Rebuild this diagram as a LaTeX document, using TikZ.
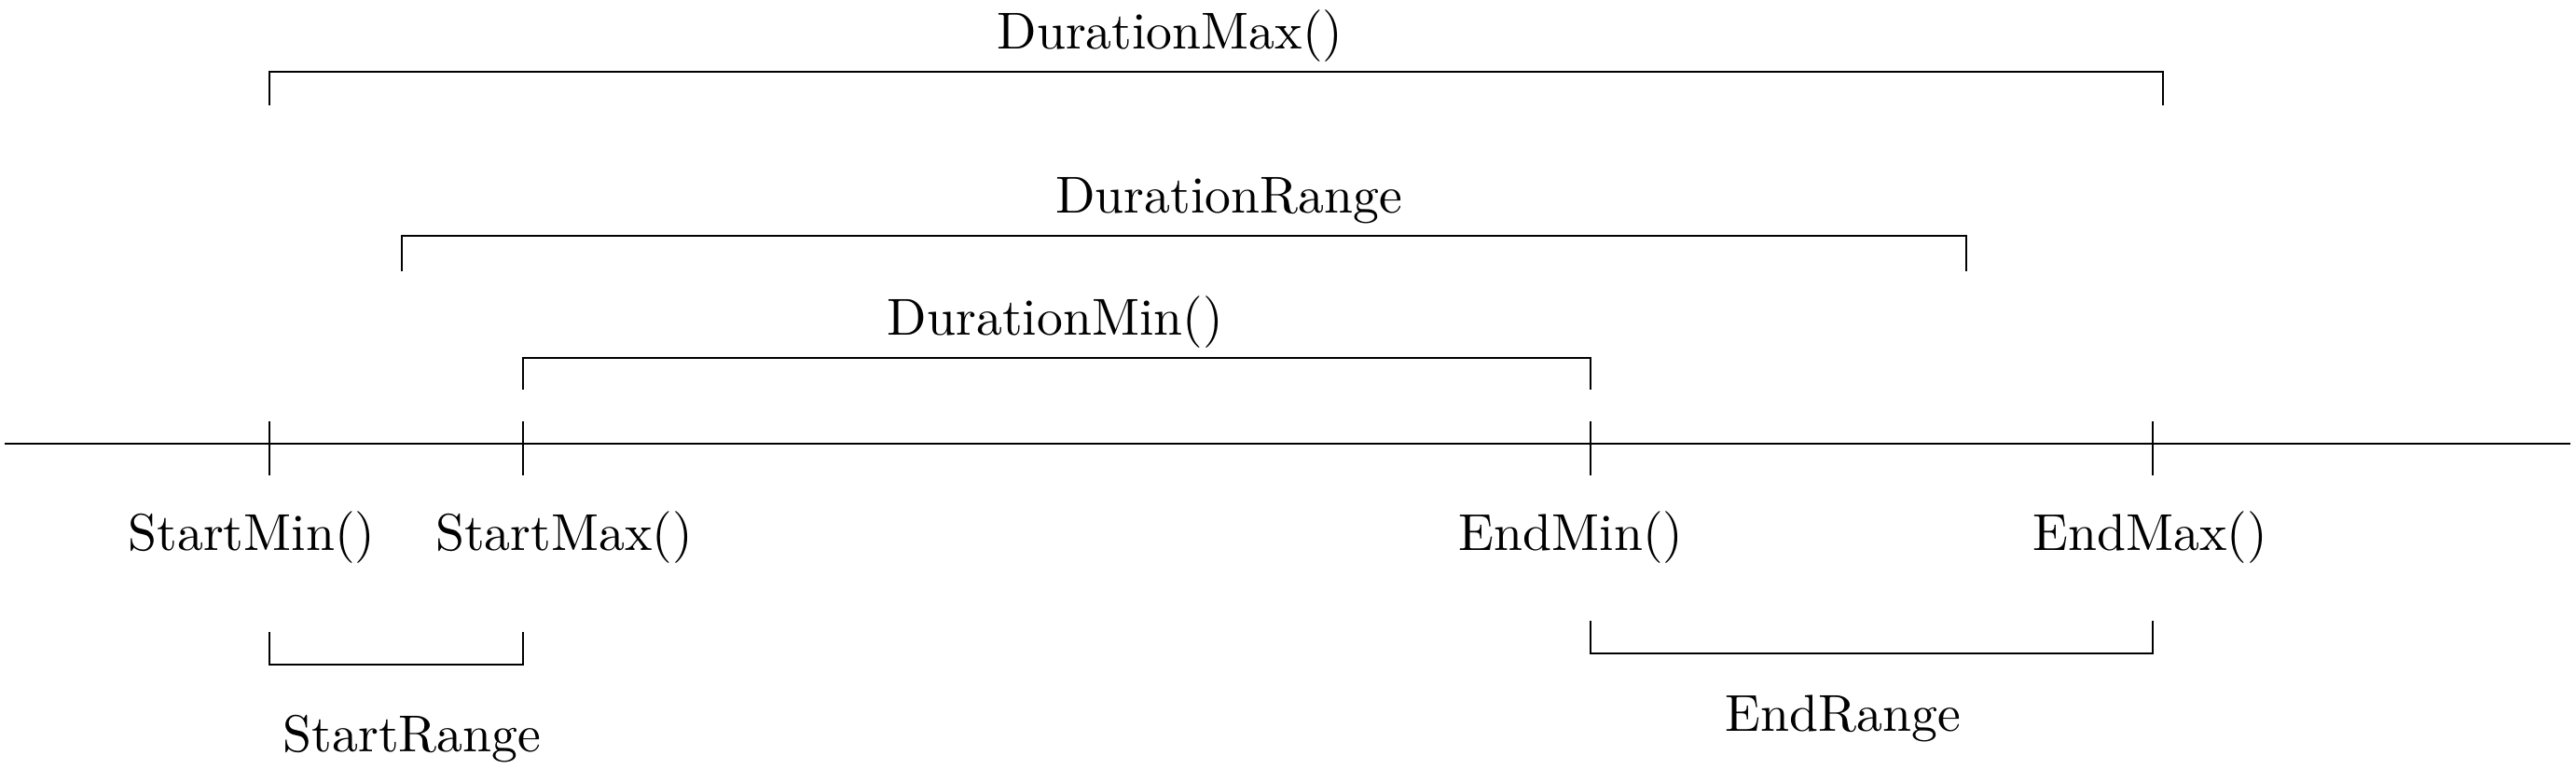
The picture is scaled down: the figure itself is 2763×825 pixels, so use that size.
\documentclass[tikz,border=0pt]{standalone}
\begin{document}
\begin{tikzpicture}[x=0.17953pt,y=-0.17953pt,line width=0.4pt,
  lbl/.style={anchor=base,inner sep=0pt,outer sep=0pt}]
\useasboundingbox (0,0) rectangle (2763,825);
% timeline
\coordinate (tl) at (5,476);
\coordinate (tr) at (2757,476);
\draw (tl) -- (tr);
% ticks
\coordinate (smin) at (289,476);
\coordinate (smax) at (561,476);
\coordinate (emin) at (1706,476);
\coordinate (emax) at (2309,476);
\foreach \p in {smin,smax,emin,emax}
  \draw ([yshift=-34*0.17953pt]\p) -- ([yshift=24*0.17953pt]\p);
% point labels
\node[lbl] (lsmin) at (270,591) {StartMin()};
\node[lbl] (lsmax) at (605,591) {StartMax()};
\node[lbl] (lemin) at (1685,591) {EndMin()};
\node[lbl] (lemax) at (2306,591) {EndMax()};
% duration brackets
\draw (289,113) -- (289,77) -- (2320,77) -- (2320,113);
\node[lbl] (ldmax) at (1255,53) {DurationMax()};
\draw (431,291) -- (431,253) -- (2109,253) -- (2109,291);
\node[lbl] (ldrange) at (1318,229) {DurationRange};
\draw (561,418) -- (561,384) -- (1706,384) -- (1706,418);
\node[lbl] (ldmin) at (1132,360) {DurationMin()};
% range brackets
\draw (289,678) -- (289,713) -- (561,713) -- (561,678);
\node[lbl] (lsrange) at (442,807) {StartRange};
\draw (1706,666) -- (1706,701) -- (2309,701) -- (2309,666);
\node[lbl] (lerange) at (1977,785) {EndRange};
\end{tikzpicture}
\end{document}
